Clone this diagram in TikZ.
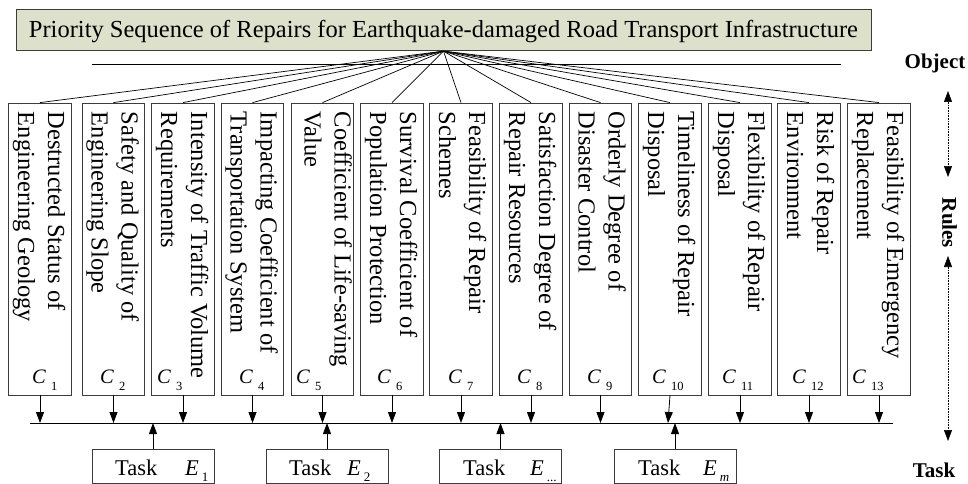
\documentclass[tikz,border=0pt]{standalone}
\usepackage{fontspec}
\setmainfont{Liberation Serif}
\usetikzlibrary{arrows.meta,calc}
\definecolor{titlefill}{RGB}{221,225,204}
\definecolor{edge}{RGB}{60,60,60}
\newcommand{\clab}[2]{\textit{#1}\kern5pt\raisebox{-7pt}{\fontsize{12.5}{12.5}\selectfont #2}}
\newcommand{\elab}[1]{\textit{E}\kern3pt\raisebox{-6pt}{\fontsize{13}{13}\selectfont #1}}
\begin{document}
\begin{tikzpicture}[x=1pt,y=-1pt,
  colbox/.style={draw=edge,line width=0.8pt,minimum width=62.5pt,minimum height=292pt,inner sep=0pt},
  coltext/.style={rotate=-90,anchor=north west,align=left,inner sep=0pt,font=\fontsize{24.5}{30}\selectfont},
  clabel/.style={anchor=base west,inner sep=0pt,font=\fontsize{20.5}{20.5}\selectfont},
  taskbox/.style={draw=edge,line width=0.8pt,minimum width=122pt,minimum height=34pt,inner sep=0pt},
  tasktext/.style={anchor=base west,inner sep=0pt,font=\fontsize{22.5}{22.5}\selectfont},
  fan/.style={line width=0.7pt},
  arr/.style={line width=0.8pt,-{Triangle[length=11pt,width=8pt]}},
  dotarr/.style={line width=0.6pt,densely dotted,{Triangle[length=11pt,width=8pt]}-{Triangle[length=11pt,width=8pt]}},
  side/.style={inner sep=0pt,font=\fontsize{21}{21}\selectfont\bfseries}]
\useasboundingbox (0,0) rectangle (968,484);
% title
\node[draw=edge,line width=0.8pt,fill=titlefill,minimum width=855pt,minimum height=41.5pt,
  inner sep=0pt,text height=16pt,text depth=0pt,font=\fontsize{24.5}{24.5}\selectfont]
  (title) at (443.5,30) {Priority Sequence of Repairs for Earthquake-damaged Road Transport Infrastructure};
\coordinate (ul) at (92,64);
\coordinate (ur) at (841,64);
\draw[line width=0.8pt] (ul) -- (ur);
% column boxes
\foreach \i/\cx in {1/40,2/113.5,3/183,4/252.5,5/322.5,6/392,7/461,8/531,9/600.5,10/670,11/740,12/809,13/879}{
  \node[colbox] (c\i) at (\cx,249) {};
  \draw[fan] (title.south) -- (c\i.north);
}
\node[coltext] (t1) at ($(c1.north east)+(-6,9)$) {Destructed Status of\\Engineering Geology};
\node[coltext] (t2) at ($(c2.north east)+(-6,9)$) {Safety and Quality of\\Engineering Slope};
\node[coltext] (t3) at ($(c3.north east)+(-6,9)$) {Intensity of Traffic Volume\\Requirements};
\node[coltext] (t4) at ($(c4.north east)+(-6,9)$) {Impacting Coefficient of\\Transportation System};
\node[coltext] (t5) at ($(c5.north east)+(-2,9)$) {Coefficient of Life-saving\\Value};
\node[coltext] (t6) at ($(c6.north east)+(-6,9)$) {Survival Coefficient of\\Population Protection};
\node[coltext] (t7) at ($(c7.north east)+(-6,9)$) {Feasibility of Repair\\Schemes};
\node[coltext] (t8) at ($(c8.north east)+(-6,9)$) {Satisfaction Degree of\\Repair Resources};
\node[coltext] (t9) at ($(c9.north east)+(-6,9)$) {Orderly Degree of\\Disaster Control};
\node[coltext] (t10) at ($(c10.north east)+(-6,9)$) {Timeliness of Repair\\Disposal};
\node[coltext] (t11) at ($(c11.north east)+(-6,9)$) {Flexibility of Repair\\Disposal};
\node[coltext] (t12) at ($(c12.north east)+(-6,9)$) {Risk of Repair\\Environment};
\node[coltext] (t13) at ($(c13.north east)+(-6,9)$) {Feasibility of Emergency\\Replacement};
% C labels
\foreach \i/\lx in {1/32,2/100,3/157,4/239,5/296,6/377,7/448,8/517,9/587,10/652,11/722,12/792,13/852}{
  \node[clabel] (cl\i) at (\lx,383) {\clab{C}{\i}};
}
% bottom line
\coordinate (hl) at (30,423);
\coordinate (hr) at (893,423);
\draw[line width=0.8pt] (hl) -- (hr);
\foreach \i in {1,...,9,11,12,13}{
  \draw[arr] (c\i.south) -- (c\i.south |- hl);
}
\draw[arr] (c10.south) -- ($(c10.south |- hl)+(-2,0)$);
% task boxes
\foreach \i/\cx in {1/153,2/327,3/500.5,4/675}{
  \node[taskbox] (e\i) at (\cx,466) {};
  \draw[arr] (e\i.north) -- (e\i.north |- hl);
}
\node[tasktext] (tk1) at (115,475) {Task};
\node[tasktext] (el1) at (185,475) {\elab{1}};
\node[tasktext] (tk2) at (289,475) {Task};
\node[tasktext] (el2) at (347,475) {\elab{2}};
\node[tasktext] (tk3) at (463,475) {Task};
\node[tasktext] (el3) at (530,475) {\elab{...}};
\node[tasktext] (tk4) at (638,475) {Task};
\node[tasktext] (el4) at (703,475) {\elab{\textit{m}}};
% right side
\node[side,anchor=base] (obj) at (935,69) {Object};
\node[side,rotate=-90] (rules) at (949.5,223) {Rules};
\node[side,anchor=base] (task) at (934,477) {Task};
\coordinate (a1) at (948,91);
\coordinate (a2) at (948,177);
\coordinate (a3) at (948,256);
\coordinate (a4) at (948,441);
\draw[dotarr] (a1) -- (a2);
\draw[dotarr] (a3) -- (a4);
\end{tikzpicture}
\end{document}
